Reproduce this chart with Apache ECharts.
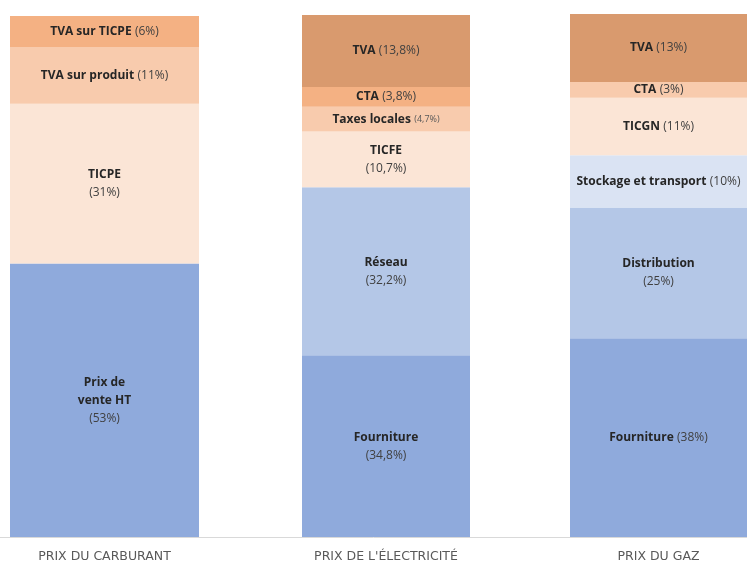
<!DOCTYPE html>
<html><head><meta charset="utf-8">
<script src="https://cdn.jsdelivr.net/npm/echarts@6/dist/echarts.min.js"></script>
<style>html,body{margin:0;padding:0;background:#fff}#c{width:747px;height:563px}</style>
</head><body><div id="c"></div>
<script>
const categories = ['PRIX DU CARBURANT', "PRIX DE L'ÉLECTRICITÉ", 'PRIX DU GAZ'];

// segment names, bottom to top ("\n" at end = percentage on its own line)
const carburantNames = ['Prix de\nvente HT\n', 'TICPE\n', 'TVA sur produit', 'TVA sur TICPE'];
const carburantValues = [53, 31, 11, 6];

const electriciteNames = ['Fourniture\n', 'Réseau\n', 'TICFE\n', 'Taxes locales', 'CTA', 'TVA'];
const electriciteValues = [34.8, 32.2, 10.7, 4.7, 3.8, 13.8];

const gazNames = ['Fourniture', 'Distribution\n', 'Stockage et transport', 'TICGN', 'CTA', 'TVA'];
const gazValues = [38, 25, 10, 11, 3, 13];

// styles (kept apart from data)
const carburantColors = ['#8faadc', '#fbe5d6', '#f8cbad', '#f4b183'];
const electriciteColors = ['#8faadc', '#b4c7e7', '#fbe5d6', '#f8cbad', '#f4b183', '#d99a6e'];
const gazColors = ['#8faadc', '#b4c7e7', '#dae3f3', '#fbe5d6', '#f8cbad', '#d99a6e'];

const groups = [
  { names: carburantNames, values: carburantValues, colors: carburantColors, small: [] },
  { names: electriciteNames, values: electriciteValues, colors: electriciteColors, small: [3] },
  { names: gazNames, values: gazValues, colors: gazColors, small: [] }
];
const gridLayout = [
  { left: 0, width: 209, bar: 189, top: 16 },
  { left: 209, width: 354, bar: 168, top: 15 },
  { left: 570, width: 177, bar: 177, top: 14 }
];

const chart = echarts.init(document.getElementById('c'));
const grids = [], xAxes = [], yAxes = [], series = [];
groups.forEach((g, i) => {
  const L = gridLayout[i];
  grids.push({ left: L.left, width: L.width, top: L.top, bottom: 26 });
  xAxes.push({
    type: 'category', gridIndex: i, data: [categories[i]],
    axisLine: { show: false },
    axisTick: { show: false },
    axisLabel: { margin: 13, color: '#595959', fontSize: 12.5, fontFamily: 'DejaVu Sans' }
  });
  const total = g.values.reduce((a, b) => a + b, 0);
  yAxes.push({ type: 'value', gridIndex: i, min: 0, max: total, show: false, splitLine: { show: false } });
  g.names.forEach((name, j) => {
    const v = g.values[j];
    const pct = '(' + String(v).replace('.', ',') + '%)';
    const brk = name.endsWith('\n');
    const lines = name.replace(/\n$/, '').split('\n');
    const pctStyle = g.small.includes(j) ? 'sm' : 'p';
    let text;
    if (brk) text = lines.map(l => '{b|' + l + '}').join('\n') + '\n{' + pctStyle + '|' + pct + '}';
    else text = '{b|' + lines[0] + '} {' + pctStyle + '|' + pct + '}';
    series.push({
      type: 'bar', xAxisIndex: i, yAxisIndex: i, stack: 's' + i,
      barWidth: L.bar, data: [v], name: name,
      itemStyle: { color: g.colors[j] },
      emphasis: { disabled: true },
      label: {
        show: true, position: 'inside', formatter: () => text,
        lineHeight: 18,
        rich: {
          b: { fontFamily: 'Open Sans', fontWeight: 'bold', fontSize: 12, color: '#262626', lineHeight: 18 },
          p: { fontFamily: 'Open Sans', fontSize: 12, color: '#404040', lineHeight: 18 },
          sm: { fontFamily: 'Open Sans', fontSize: 9, color: '#595959', lineHeight: 18 }
        }
      }
    });
  });
});
// full-width baseline
grids.push({ left: 0, right: 0, top: 14, bottom: 26 });
xAxes.push({ type: 'category', gridIndex: 3, data: [], axisLine: { lineStyle: { color: '#d9d9d9', width: 1 } }, axisTick: { show: false }, axisLabel: { show: false } });
yAxes.push({ type: 'value', gridIndex: 3, show: false, splitLine: { show: false } });
chart.setOption({ animation: false, grid: grids, xAxis: xAxes, yAxis: yAxes, series: series });
</script>
</body></html>
